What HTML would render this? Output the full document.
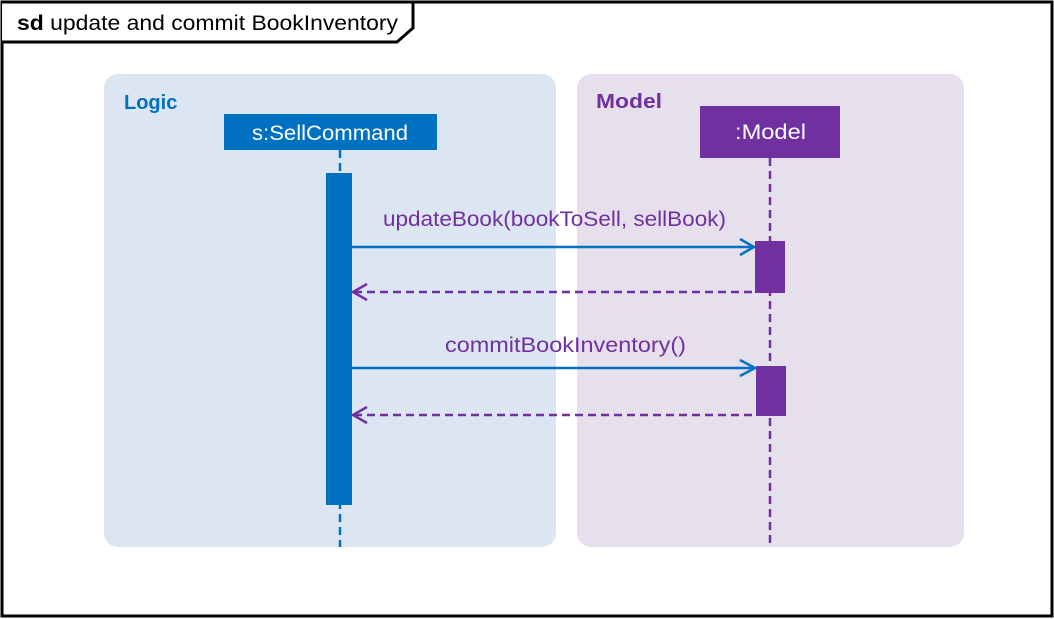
<!DOCTYPE html>
<html><head><meta charset="utf-8"><style>
html,body{margin:0;padding:0;background:#fff;}
svg{display:block;font-family:"Liberation Sans","DejaVu Sans",sans-serif;}
</style></head><body>
<svg width="1054" height="619" viewBox="0 0 1054 619" xmlns="http://www.w3.org/2000/svg">
<rect x="0" y="0" width="1054" height="619" fill="#fff"/>
<rect x="104" y="74" width="452" height="473" rx="14" fill="#dce6f2"/>
<rect x="577" y="74" width="387" height="473" rx="14" fill="#e6e0ec"/>
<rect x="2" y="2" width="1050" height="614" fill="none" stroke="#000" stroke-width="3"/>
<path d="M2 2 H413 V28 L397 42 H2" fill="#fff" stroke="#000" stroke-width="3"/>
<text x="17" y="30" font-size="21" fill="#000" textLength="381" lengthAdjust="spacingAndGlyphs"><tspan font-weight="bold">sd</tspan> update and commit BookInventory</text>
<text x="124" y="109" font-size="20" font-weight="bold" fill="#0070c0">Logic</text>
<text x="596" y="108" font-size="20" font-weight="bold" fill="#7030a0" textLength="66" lengthAdjust="spacingAndGlyphs">Model</text>
<line x1="340" y1="150" x2="340" y2="547" stroke="#0070c0" stroke-width="2.5" stroke-dasharray="8,5"/>
<line x1="770" y1="158" x2="770" y2="547" stroke="#7030a0" stroke-width="2.5" stroke-dasharray="8,5"/>
<rect x="224" y="114" width="213" height="36" fill="#0070c0"/>
<text x="252" y="140" font-size="21" fill="#fff" textLength="156" lengthAdjust="spacingAndGlyphs">s:SellCommand</text>
<rect x="700" y="106" width="140" height="52" fill="#7030a0"/>
<text x="735" y="139" font-size="21" fill="#fff" textLength="71" lengthAdjust="spacingAndGlyphs">:Model</text>
<rect x="326" y="173" width="26" height="332" fill="#0070c0"/>
<rect x="755" y="241" width="30" height="52" fill="#7030a0"/>
<rect x="756" y="366" width="30" height="50" fill="#7030a0"/>
<text x="383" y="226" font-size="21" fill="#7030a0" textLength="343" lengthAdjust="spacingAndGlyphs">updateBook(bookToSell, sellBook)</text>
<line x1="352" y1="247" x2="753" y2="247" stroke="#0070c0" stroke-width="2.5"/>
<path d="M740 239 L754 247 L740 255" fill="none" stroke="#0070c0" stroke-width="2.5"/>
<line x1="354" y1="292" x2="755" y2="292" stroke="#7030a0" stroke-width="2.5" stroke-dasharray="8,5"/>
<path d="M367 284 L353 292 L367 300" fill="none" stroke="#7030a0" stroke-width="2.5"/>
<text x="445" y="352" font-size="21" fill="#7030a0" textLength="241" lengthAdjust="spacingAndGlyphs">commitBookInventory()</text>
<line x1="352" y1="368" x2="754" y2="368" stroke="#0070c0" stroke-width="2.5"/>
<path d="M740 360 L755 368 L740 376" fill="none" stroke="#0070c0" stroke-width="2.5"/>
<line x1="354" y1="415" x2="756" y2="415" stroke="#7030a0" stroke-width="2.5" stroke-dasharray="8,5"/>
<path d="M367 407 L353 415 L367 423" fill="none" stroke="#7030a0" stroke-width="2.5"/>
</svg>
</body></html>
